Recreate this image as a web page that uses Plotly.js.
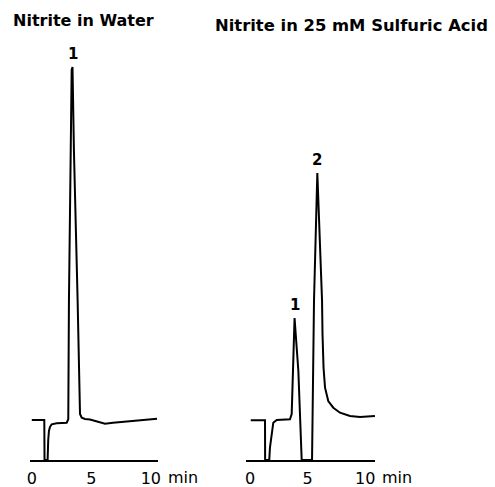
<!DOCTYPE html>
<html>
<head>
<meta charset="utf-8">
<script src="https://cdn.plot.ly/plotly-3.0.1.min.js"></script>
<style>html,body{margin:0;padding:0;background:#fff;}#chart{width:495px;height:487px;}</style>
</head>
<body>
<div id="chart"></div>
<script>
// Panel titles
var panelTitles = ['Nitrite in Water', 'Nitrite in 25 mM Sulfuric Acid'];
// Tick labels (minutes)
var tickValues = [0, 5, 10];
var tickLabels = ['0', '5', '10'];
var unitLabel = 'min';

// Left chromatogram: Nitrite in Water (time in min, detector response)
var waterTime = [0.0, 1.05, 1.07, 1.25, 1.33, 1.38, 1.44, 1.53, 1.67, 2.09, 2.5, 2.93, 3.065, 3.12, 3.27, 3.35, 3.42, 3.54, 3.85, 3.96, 4.05, 4.19, 4.47, 4.89, 5.73, 6.15, 6.82, 7.6, 8.5, 9.5, 10.52];
var waterSignal = [40, 40, 0, 0, 0, 20, 29, 33, 35.7, 36.7, 37, 37.3, 40.7, 159, 309, 390, 393, 309, 159, 99, 46, 42.3, 41, 40.5, 37.3, 36.3, 37.3, 38.2, 39, 40.2, 41.3];
var waterPeakLabels = ['1'];
var waterPeakWindows = [[2, 5]];

// Right chromatogram: Nitrite in 25 mM Sulfuric Acid
var acidTime = [0.05, 1.29, 1.30, 1.66, 1.72, 1.87, 2.01, 2.31, 3.46, 3.61, 3.75, 3.86, 4.19, 4.48, 5.38, 5.49, 5.55, 5.84, 6.25, 6.29, 6.38, 6.51, 6.79, 7.23, 7.81, 8.68, 9.55, 10.85];
var acidSignal = [39.7, 39.7, 0, 0, 12.3, 29, 37.3, 40, 40.7, 46, 99, 142, 89, 0, 0, 99, 159, 287, 159, 126, 92.3, 72.3, 59, 52.3, 47.3, 44, 43, 44];
var acidPeakLabels = ['1', '2'];
var acidPeakWindows = [[3, 4.5], [5, 7]];

function peakIndex(t, s, w) {
  var best = -1;
  for (var i = 0; i < t.length; i++) {
    if (t[i] >= w[0] && t[i] <= w[1] && (best < 0 || s[i] > s[best])) best = i;
  }
  return best;
}

var W = 495, H = 487;
var lineStyle = {color: '#000', width: 2};
var traces = [
  {x: waterTime, y: waterSignal, xaxis: 'x', yaxis: 'y', mode: 'lines', line: lineStyle, hoverinfo: 'skip'},
  {x: acidTime, y: acidSignal, xaxis: 'x2', yaxis: 'y2', mode: 'lines', line: lineStyle, hoverinfo: 'skip'}
];

var annotations = [];
var labelFont = {family: 'DejaVu Sans', size: 15, color: '#000'};
waterPeakLabels.forEach(function (lab, k) {
  var i = peakIndex(waterTime, waterSignal, waterPeakWindows[k]);
  annotations.push({xref: 'x', yref: 'y', x: waterTime[i], y: waterSignal[i], text: '<b>' + lab + '</b>', showarrow: false, yanchor: 'bottom', yshift: 2, font: labelFont});
});
acidPeakLabels.forEach(function (lab, k) {
  var i = peakIndex(acidTime, acidSignal, acidPeakWindows[k]);
  annotations.push({xref: 'x2', yref: 'y2', x: acidTime[i], y: acidSignal[i], text: '<b>' + lab + '</b>', showarrow: false, yanchor: 'bottom', yshift: 2, font: labelFont});
});
var titleFont = {family: 'DejaVu Sans', size: 16, color: '#000'};
annotations.push({xref: 'paper', yref: 'paper', x: 11 / W, y: 1 - 20.5 / H, xanchor: 'left', yanchor: 'middle', text: '<b>' + panelTitles[0] + '</b>', showarrow: false, font: titleFont});
annotations.push({xref: 'paper', yref: 'paper', x: 213 / W, y: 1 - 25 / H, xanchor: 'left', yanchor: 'middle', text: '<b>' + panelTitles[1] + '</b>', showarrow: false, font: {family: 'DejaVu Sans', size: 16.4, color: '#000'}});
var tickFont = {family: 'DejaVu Sans', size: 16, color: '#000'};
annotations.push({xref: 'x', yref: 'paper', x: tickValues[2], y: 1 - 477.5 / H, xanchor: 'left', yanchor: 'middle', xshift: 15, text: unitLabel, showarrow: false, font: tickFont});
annotations.push({xref: 'x2', yref: 'paper', x: tickValues[2], y: 1 - 477.5 / H, xanchor: 'left', yanchor: 'middle', xshift: 15, text: unitLabel, showarrow: false, font: tickFont});

function xax(domain, range, anchor) {
  return {domain: domain, range: range, anchor: anchor, showline: true, linecolor: '#000', linewidth: 2,
    showgrid: false, zeroline: false, ticks: '', tickvals: tickValues, ticktext: tickLabels,
    tickfont: tickFont, ticklabelstandoff: 3, fixedrange: true};
}
function yax(anchor) {
  return {domain: [1 - 460 / H, 1 - 41 / H], range: [0, 419], visible: false, showgrid: false, zeroline: false, anchor: anchor, fixedrange: true};
}

var layout = {
  width: W, height: H,
  margin: {l: 0, r: 0, t: 0, b: 0},
  paper_bgcolor: '#fff', plot_bgcolor: 'rgba(0,0,0,0)',
  showlegend: false,
  xaxis: xax([30 / W, 158 / W], [-0.15, 10.6], 'y'),
  yaxis: yax('x'),
  xaxis2: xax([246 / W, 375 / W], [-0.363, 10.855], 'y2'),
  yaxis2: yax('x2'),
  annotations: annotations
};

Plotly.newPlot('chart', traces, layout, {staticPlot: true, displayModeBar: false});
</script>
</body>
</html>
